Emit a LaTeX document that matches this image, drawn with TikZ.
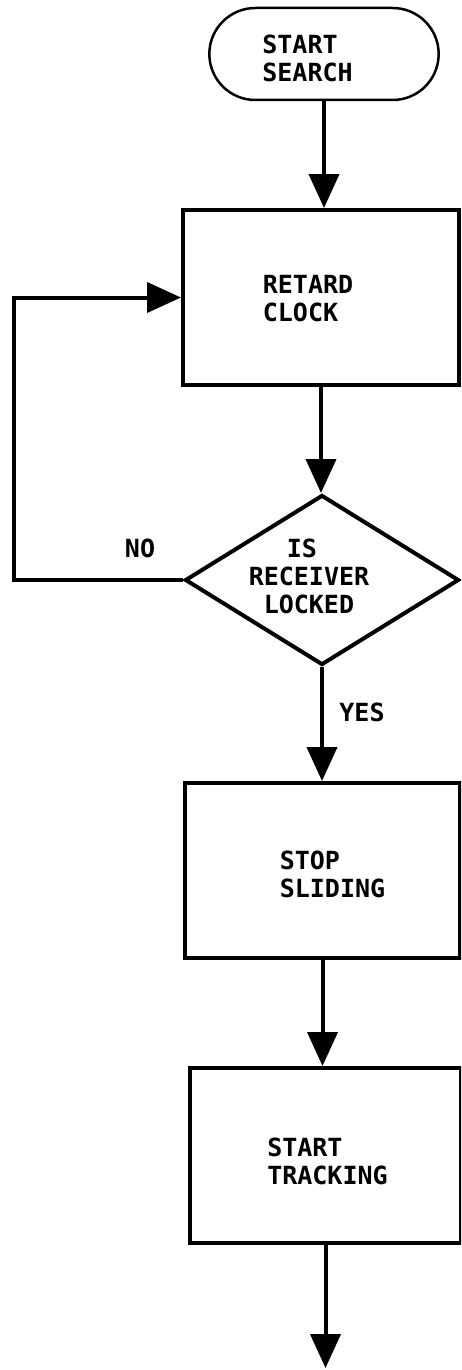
\documentclass[tikz,border=0pt]{standalone}
\usepackage{fontspec}
\newfontfamily\flowfont{DejaVu Sans Mono}
\usetikzlibrary{shapes.geometric,shapes.misc,arrows.meta}
% text block, padded left by #1 and lowered by #2
\newcommand\boxtext[3]{\raisebox{#2}[\height][\depth]{\begin{tabular}{@{\hspace{#1}}l@{}}#3\end{tabular}}}

\begin{document}
\begin{tikzpicture}[x=1pt,y=-1pt,
    every node/.style={font=\flowfont\bfseries\fontsize{25}{28}\selectfont},
    term/.style={draw, line width=2.5pt, rounded rectangle, minimum width=236pt, minimum height=92pt},
    stepbox/.style={draw, line width=4pt, rectangle, minimum height=175pt},
    decision/.style={draw, line width=4pt, diamond, aspect=1.6, inner sep=0pt,
        minimum width=274pt, minimum height=170pt},
    flow/.style={line width=4pt, -{Triangle[width=30pt,length=34pt]}}]
    \useasboundingbox (0,0) rectangle (461,1370);
    \clip (0,0) rectangle (461,1370);

    \node[term] (start) at (324,54) {\boxtext{-33pt}{-8pt}{START\\SEARCH}};
    \node[stepbox, minimum width=276pt] (retard) at (321,297.5) {\boxtext{-26pt}{-4pt}{RETARD\\CLOCK}};
    \node[decision] (decide) at (322,580) {\boxtext{-26pt}{0pt}{\hspace*{38pt}IS\\RECEIVER\\\hspace*{15pt}LOCKED}};
    \node[stepbox, minimum width=275pt] (stop) at (322.5,870.5) {\boxtext{20pt}{-7pt}{STOP\\SLIDING}};
    \node[stepbox, minimum width=271pt] (track) at (325.5,1155.5) {\boxtext{4pt}{-9pt}{START\\TRACKING}};

    \node (yes) at (362,712) {YES};
    \node (no) at (140,548) {NO};
    \coordinate (loop) at (14,420);
    \coordinate (exit) at (329,1368);

    \foreach \a/\b in {start/retard, retard/decide, decide/stop, stop/track}
        \draw[flow] (\a.south) -- (\a.south |- \b.north);
    \draw[flow] (track.south) -- (track.south |- exit);
    \draw[flow] (decide.west) -| (loop) |- (retard.west);
\end{tikzpicture}
\end{document}
